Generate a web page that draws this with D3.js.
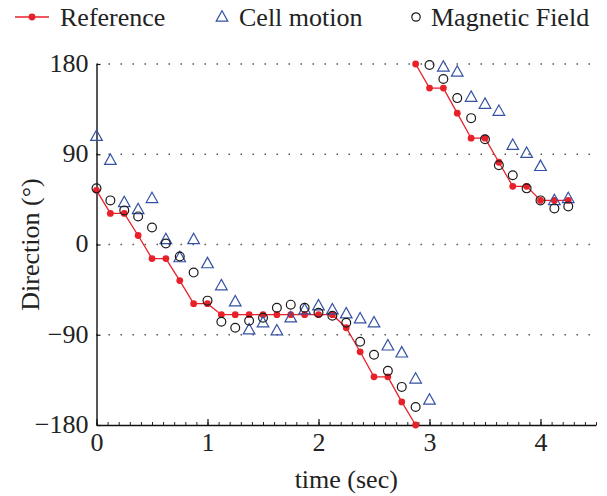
<!DOCTYPE html>
<html><head><meta charset="utf-8">
<script src="https://cdn.jsdelivr.net/npm/d3@7/dist/d3.min.js"></script>
<style>body{margin:0;background:#fff}svg{display:block}svg text{font-family:"Liberation Serif","Tinos","Times New Roman","DejaVu Serif",serif !important;fill:#222}</style>
</head><body>
<script>
const time = [0,0.125,0.25,0.375,0.5,0.625,0.75,0.875,1,1.125,1.25,1.375,1.5,1.625,1.75,1.875,2,2.125,2.25,2.375,2.5,2.625,2.75,2.875,3,3.125,3.25,3.375,3.5,3.625,3.75,3.875,4,4.125,4.25];
const refTimeA = [0,0.125,0.25,0.375,0.5,0.625,0.75,0.875,1,1.125,1.25,1.375,1.5,1.625,1.75,1.875,2,2.125,2.25,2.375,2.5,2.625,2.75,2.875];
const refA = [54,31,31,9,-14,-14,-36,-59,-59,-70,-70,-70,-70,-70,-70,-70,-70,-70,-83,-107,-132,-132,-157,-180];
const refTimeB = [2.875,3,3.125,3.25,3.375,3.5,3.625,3.75,3.875,4,4.125,4.25];
const refB = [180,156,156,131,106,106,82,58,58,44,44,44];
const cellMotion = [108,84,42,35,46,5,-13,5,-19,-41,-57,-85,-78,-86,-73,-65,-61,-65,-69,-74,-78,-101,-108,-134,-155,177,172,147,140,133,99,91,78,44,46];
const magField = [56,44,34,28,17,1,-12,-28,-56,-77,-83,-76,-73,-63,-60,-63,-68,-71,-78,-97,-110,-126,-142,-162,179,165,146,126,105,79,69,56,44,36,38];
const xTicks = [0,1,2,3,4];
const yTicks = [-180,-90,0,90,180];
const gridValues = [-90,0,90,180];
const legendLabels = ["Reference","Cell motion","Magnetic Field"];

const W = 607, H = 496;
const RED = "#e8202a", BLUE = "#3451a3", BLACK = "#1a1a1a";
const FONT = '"Liberation Serif","Tinos","Times New Roman","DejaVu Serif",serif';
const svg = d3.select("body").append("svg").attr("width", W).attr("height", H).style("font-family", FONT);
const x = d3.scaleLinear().domain([0, 4.5]).range([96.5, 596]);
const y = d3.scaleLinear().domain([-180, 180]).range([425, 64]);

// grid
svg.append("g").selectAll("line").data(gridValues).join("line")
  .attr("x1", x(0)).attr("x2", x(4.5))
  .attr("y1", d => y(d)).attr("y2", d => y(d))
  .attr("stroke", "#555").attr("stroke-width", 1.5).attr("stroke-dasharray", "1.5,10.5");

// minor x ticks
const minor = [];
for (let i = 0; i <= 45; i++) minor.push(i / 10);
svg.append("g").attr("transform", `translate(0,${y(-180)})`)
  .call(d3.axisBottom(x).tickValues(minor).tickSize(-3).tickFormat(""))
  .call(g => g.select(".domain").remove())
  .call(g => g.selectAll("line").attr("stroke", "#222").attr("stroke-width", 1));

const xAxis = svg.append("g").attr("transform", `translate(0,${y(-180)})`)
  .call(d3.axisBottom(x).tickValues(xTicks).tickSize(-6).tickSizeOuter(0).tickPadding(8).tickFormat(d3.format("d")));
xAxis.attr("font-family", null).attr("font-size", null);
xAxis.select(".domain").attr("stroke", "#111").attr("stroke-width", 1.4);
xAxis.selectAll("line").attr("stroke", "#111").attr("stroke-width", 1.2);
xAxis.selectAll("text").style("font-size", "26px").style("font-family", FONT).attr("fill", "#222");

const yAxis = svg.append("g").attr("transform", `translate(${x(0)},0)`)
  .call(d3.axisLeft(y).tickValues(yTicks).tickSize(-4).tickSizeOuter(0).tickPadding(8).tickFormat(d3.format("d")));
yAxis.attr("font-family", null).attr("font-size", null);
yAxis.select(".domain").attr("stroke", "#111").attr("stroke-width", 1.4);
yAxis.selectAll("line").attr("stroke", "#111").attr("stroke-width", 1.2);
yAxis.selectAll("text").style("font-size", "26px").style("font-family", FONT).attr("fill", "#222").attr("dy", "0.28em");

// axis titles
svg.append("text").attr("x", (x(0) + x(4.5)) / 2).attr("y", 488).attr("text-anchor", "middle")
  .style("font-size", "26px").style("font-family", FONT).text("time (sec)");
svg.append("text").attr("transform", `translate(39,${y(0)}) rotate(-90)`).attr("text-anchor", "middle")
  .style("font-size", "26px").style("font-family", FONT).text("Direction (°)");

// reference lines
const line = d3.line().x(d => x(d[0])).y(d => y(d[1]));
const segA = refTimeA.map((t, i) => [t, refA[i]]);
const segB = refTimeB.map((t, i) => [t, refB[i]]);
[segA, segB].forEach(seg => {
  svg.append("path").datum(seg).attr("d", line).attr("fill", "none").attr("stroke", RED).attr("stroke-width", 1.3);
  svg.append("g").selectAll("circle").data(seg).join("circle")
    .attr("cx", d => x(d[0])).attr("cy", d => y(d[1])).attr("r", 3.4).attr("fill", RED);
});

// triangles
const tri = (cx, cy, s) => `M${cx},${cy - s * 0.62}L${cx + s * 0.58},${cy + s * 0.42}L${cx - s * 0.58},${cy + s * 0.42}Z`;
svg.append("g").selectAll("path").data(time).join("path")
  .attr("d", (t, i) => tri(x(t), y(cellMotion[i]), 10))
  .attr("fill", "none").attr("stroke", BLUE).attr("stroke-width", 1.2);

// circles
svg.append("g").selectAll("circle").data(time).join("circle")
  .attr("cx", t => x(t)).attr("cy", (t, i) => y(magField[i])).attr("r", 4.4)
  .attr("fill", "none").attr("stroke", BLACK).attr("stroke-width", 1.2);

// legend
const lg = svg.append("g");
lg.append("line").attr("x1", 15).attr("x2", 49).attr("y1", 17).attr("y2", 17).attr("stroke", RED).attr("stroke-width", 1.3);
lg.append("circle").attr("cx", 32).attr("cy", 17).attr("r", 3.4).attr("fill", RED);
lg.append("text").attr("x", 60).attr("y", 26).style("font-size", "26px").style("font-family", FONT).text(legendLabels[0]);
lg.append("path").attr("d", tri(222, 17, 10)).attr("fill", "none").attr("stroke", BLUE).attr("stroke-width", 1.2);
lg.append("text").attr("x", 239).attr("y", 26).style("font-size", "26px").style("font-family", FONT).text(legendLabels[1]);
lg.append("circle").attr("cx", 416).attr("cy", 17).attr("r", 4.2).attr("fill", "none").attr("stroke", BLACK).attr("stroke-width", 1.2);
lg.append("text").attr("x", 431).attr("y", 26).style("font-size", "26px").style("font-family", FONT).text(legendLabels[2]);
</script>
</body></html>
